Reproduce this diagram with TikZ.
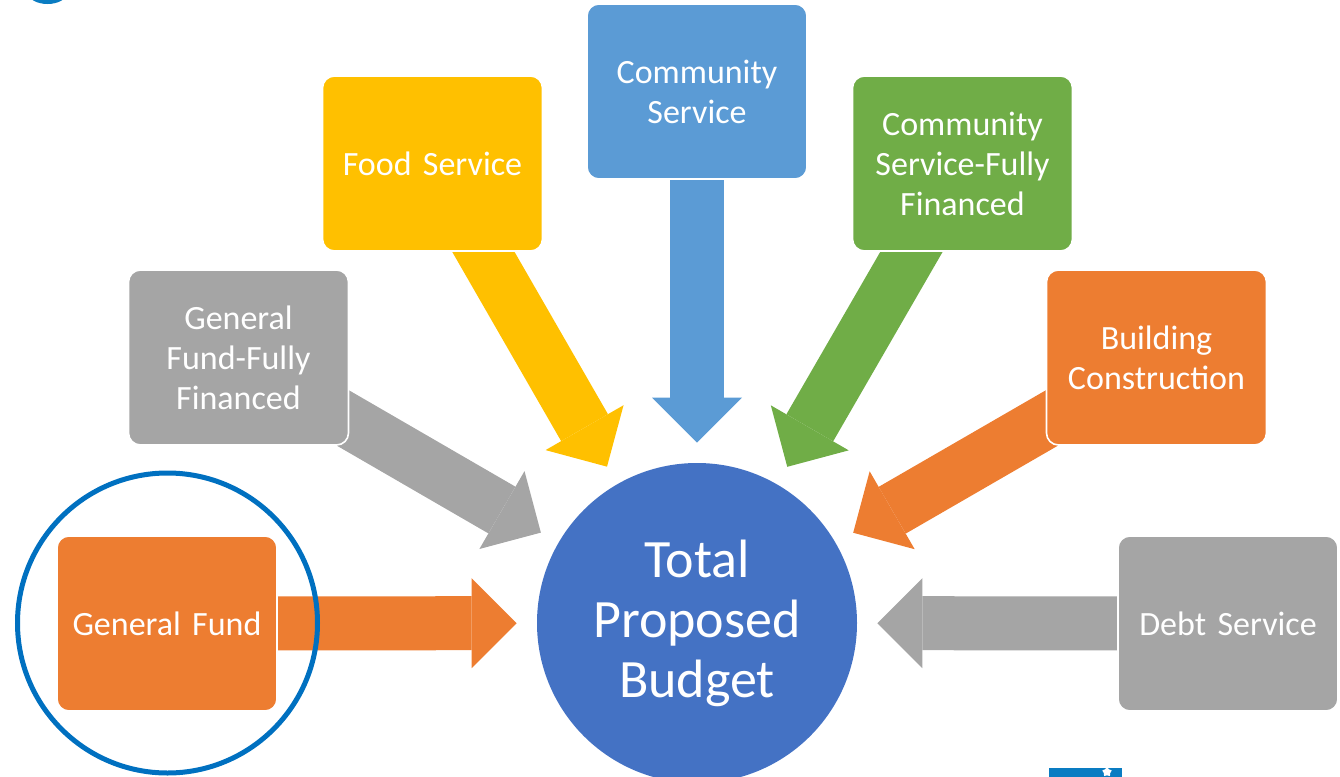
\documentclass[tikz,border=0pt]{standalone}
\usepackage{fontspec}
\setmainfont{Carlito}
\usepackage{tikz}
\usetikzlibrary{arrows.meta,backgrounds,shapes.geometric}
\definecolor{fundorange}{HTML}{ED7D31}
\definecolor{fundgray}{HTML}{A5A5A5}
\definecolor{foodyellow}{HTML}{FFC000}
\definecolor{commblue}{HTML}{5B9BD5}
\definecolor{commgreen}{HTML}{70AD47}
\definecolor{totalblue}{HTML}{4472C4}
\definecolor{ringblue}{HTML}{0070C0}
\definecolor{logoblue}{HTML}{0A7CC2}

\begin{document}
\begin{tikzpicture}[x=0.5pt, y=-0.5pt, fund/.style={draw=white, line width=0.8pt, rounded corners=6pt, minimum width=110pt, minimum height=87.5pt, text width=100pt, align=center, text=white, font=\fontsize{17}{20}\selectfont}, feeder/.style={line width=27pt, shorten >=10pt, -{Triangle[width=45pt, length=22.5pt, line width=0pt]}}]
\useasboundingbox (0,0) rectangle (1340,777);
\node[fund, fill=fundorange] (f0) at (167,623.5) {General Fund};
\node[fund, fill=fundgray] (f1) at (238.5,357.5) {General\\Fund-Fully\\Financed};
\node[fund, fill=foodyellow] (f2) at (432.5,163.5) {Food Service};
\node[fund, fill=commblue] (f3) at (697,91.5) {Community\\Service};
\node[fund, fill=commgreen] (f4) at (962.5,163.5) {Community\\Service-Fully\\Financed};
\node[fund, fill=fundorange] (f5) at (1156.5,357.5) {Building\\Construction};
\node[fund, fill=fundgray] (f6) at (1228,623.5) {Debt Service};
\node[circle, fill=totalblue, minimum size=160pt, align=center, text=white, font=\fontsize{27}{30}\selectfont] (total) at (697,623) {Total\\Proposed\\Budget};
\begin{scope}[on background layer]
\draw[feeder, fundorange] (f0.center) -- (total);
\draw[feeder, fundgray] (f1.center) -- (total);
\draw[feeder, foodyellow] (f2.center) -- (total);
\draw[feeder, commblue] (f3.center) -- (total);
\draw[feeder, commgreen] (f4.center) -- (total);
\draw[feeder, fundorange] (f5.center) -- (total);
\draw[feeder, fundgray] (f6.center) -- (total);
\end{scope}
\node[circle, draw=ringblue, line width=2.5pt, minimum size=150pt] (ring) at (167.5,623) {};
\fill[logoblue] (47.5,-8) ellipse [x radius=10pt, y radius=6pt];
\fill[logoblue] (1049,768) rectangle (1122,790);
\node[star, star points=5, fill=white, minimum size=5pt, inner sep=0pt] (logostar) at (1107,772) {};
\end{tikzpicture}
\end{document}
